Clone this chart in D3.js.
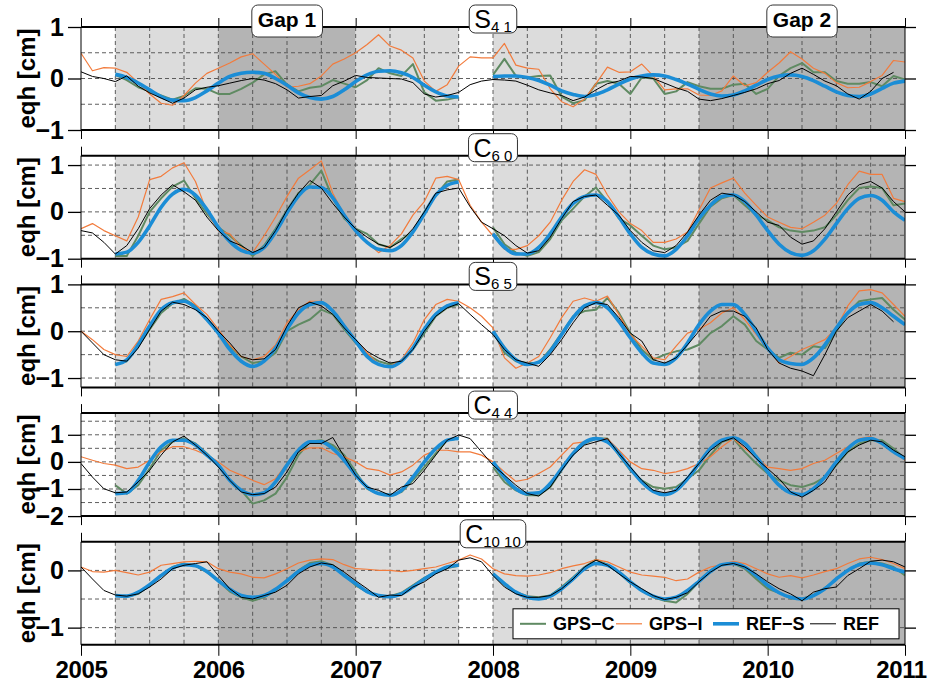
<!DOCTYPE html>
<html>
<head>
<meta charset="utf-8">
<script src="https://cdn.jsdelivr.net/npm/d3@7"></script>
<style>
  body { margin: 0; background: #fff; }
  text { font-family: "Liberation Sans", Arial, Helvetica, sans-serif; }
</style>
</head>
<body>
<svg id="chart" width="931" height="690"></svg>
<script>
// monthly samples, 2005.0 .. 2011.0
var months = d3.range(73).map(function(i) { return 2005 + i / 12; });
var yearTicks = [2005, 2006, 2007, 2008, 2009, 2010, 2011];

// background periods: [start, end, kind]
var periods = [[2005.25, 2006, "light"], [2006, 2007, "dark"], [2007, 2007.75, "light"],
               [2008, 2009.5, "light"], [2009.5, 2011, "dark"]];
var gapLabels = ["Gap 1", "Gap 2"];
var gapCenters = [2006.5, 2010.25];

// ---- S41 ----
var s41_gpsc = [null,null,null,0.07,-0.03,-0.17,-0.25,-0.33,-0.41,-0.34,-0.19,-0.2,
  -0.3,-0.3,-0.2,-0.08,0.08,0.14,-0.12,-0.25,-0.18,-0.15,-0.03,-0.1,
  -0.17,-0.03,0.2,0.1,0.05,0.28,-0.27,-0.43,-0.41,-0.36,null,null,
  0.07,0.38,0.05,0.02,0.05,0.06,-0.35,-0.48,-0.42,-0.1,-0.05,-0.1,
  -0.3,0.02,0.0,-0.3,-0.25,-0.07,-0.15,-0.2,-0.2,-0.12,-0.1,-0.3,
  -0.2,0.05,0.2,0.3,0.12,0.12,-0.05,-0.1,-0.1,-0.07,-0.15,0.05,-0.02];
var s41_gpsi = [0.49,0.15,0.21,0.2,0.12,-0.08,-0.3,-0.48,-0.52,-0.33,-0.09,0.1,
  0.2,0.3,0.42,0.48,0.28,0.08,-0.17,-0.15,-0.1,0.05,0.28,0.38,
  0.5,0.66,0.85,0.63,0.55,0.4,-0.05,-0.25,-0.12,0.24,0.42,0.4,
  0.4,0.68,0.26,0.2,0.18,-0.2,-0.45,-0.55,-0.4,-0.1,0.22,0.12,
  0.13,0.28,0.05,-0.22,-0.2,-0.2,-0.32,-0.33,-0.24,0.05,-0.14,-0.08,
  0.12,0.3,0.52,0.38,0.2,0.1,-0.08,-0.18,-0.17,-0.06,0.06,0.35,0.32];
var s41_refs = [null,null,null,0.08,0.02,-0.09,-0.22,-0.35,-0.42,-0.43,-0.37,-0.24,
  -0.09,0.04,0.1,0.12,0.1,0.0,-0.13,-0.28,-0.37,-0.4,-0.35,-0.22,
  -0.06,0.07,0.14,0.15,0.11,0.02,-0.13,-0.26,-0.34,-0.36,null,null,
  0.04,0.05,0.05,0.02,-0.04,-0.13,-0.24,-0.31,-0.35,-0.31,-0.22,-0.11,
  -0.01,0.05,0.07,0.05,-0.02,-0.11,-0.21,-0.3,-0.34,-0.32,-0.24,-0.13,
  -0.02,0.05,0.07,0.04,-0.04,-0.15,-0.26,-0.33,-0.35,-0.3,-0.19,-0.09,-0.05];
var s41_ref = [0.13,0.04,0.0,-0.06,0.05,-0.15,-0.28,-0.38,-0.48,-0.38,-0.22,-0.17,
  -0.14,-0.09,-0.04,0.0,-0.03,-0.1,-0.22,-0.38,-0.35,-0.33,-0.14,-0.05,
  0.06,0.02,0.01,0.0,-0.01,-0.08,-0.3,-0.36,-0.33,-0.27,-0.12,-0.05,
  -0.02,-0.03,-0.05,-0.13,-0.22,-0.28,-0.33,-0.43,-0.36,-0.22,-0.1,-0.05,
  0.04,0.03,0.0,-0.09,-0.18,-0.25,-0.4,-0.43,-0.39,-0.33,-0.27,-0.2,
  -0.1,-0.04,0.1,0.2,0.08,-0.05,-0.14,-0.3,-0.4,-0.25,0.0,0.12,null];

// ---- C60 ----
var c60_gpsc = [null,null,null,-0.94,-0.94,-0.51,0.0,0.29,0.54,0.67,0.29,-0.04,
  -0.33,-0.51,-0.72,-0.94,-0.72,-0.36,0.04,0.4,0.58,0.88,0.29,-0.14,
  -0.36,-0.47,-0.69,-0.76,-0.58,-0.43,0.0,0.36,0.65,0.69,null,null,
  -0.33,-0.69,-0.87,-0.94,-0.86,-0.58,-0.18,0.07,0.33,0.52,0.22,-0.14,
  -0.29,-0.51,-0.72,-0.8,-0.76,-0.62,-0.25,0.11,0.29,0.36,0.14,-0.07,
  -0.18,-0.33,-0.4,-0.43,-0.4,-0.33,-0.07,0.25,0.51,0.54,0.51,0.14,0.18];
var c60_gpsi = [-0.36,-0.25,-0.4,-0.51,-0.62,-0.11,0.69,0.76,0.94,1.05,0.65,0.0,
  -0.4,-0.47,-0.76,-0.87,-0.51,-0.11,0.33,0.72,0.9,1.09,0.4,-0.07,
  -0.36,-0.65,-0.87,-0.72,-0.47,-0.07,0.22,0.72,0.76,0.69,0.14,-0.22,
  -0.51,-0.8,-0.8,-0.72,-0.51,-0.22,0.25,0.65,0.9,0.8,0.36,0.0,
  -0.25,-0.4,-0.65,-0.65,-0.58,-0.43,0.04,0.51,0.62,0.72,0.4,0.14,
  -0.11,-0.22,-0.33,-0.36,-0.22,-0.07,0.18,0.58,0.87,0.8,0.8,0.29,0.22];
var c60_refs = [null,null,null,-0.9,-0.86,-0.65,-0.3,0.1,0.38,0.48,0.36,0.05,
  -0.33,-0.63,-0.82,-0.88,-0.76,-0.43,-0.02,0.34,0.53,0.52,0.3,-0.07,
  -0.4,-0.65,-0.8,-0.83,-0.72,-0.43,-0.04,0.36,0.57,0.64,null,null,
  -0.47,-0.76,-0.9,-0.9,-0.76,-0.47,-0.11,0.18,0.33,0.36,0.22,-0.11,
  -0.47,-0.76,-0.9,-0.94,-0.8,-0.51,-0.14,0.14,0.33,0.36,0.22,-0.07,
  -0.4,-0.69,-0.87,-0.93,-0.83,-0.58,-0.25,0.07,0.29,0.35,0.25,0.0,-0.18];
var c60_ref = [-0.4,-0.45,-0.65,-0.9,-0.72,-0.36,0.07,0.36,0.58,0.43,0.25,-0.11,
  -0.4,-0.62,-0.72,-0.87,-0.76,-0.4,0.04,0.4,0.67,0.51,0.18,-0.11,
  -0.36,-0.54,-0.69,-0.76,-0.62,-0.36,0.0,0.4,0.47,0.51,0.11,-0.22,
  -0.36,-0.51,-0.72,-0.88,-0.83,-0.54,-0.14,0.22,0.33,0.36,0.14,-0.07,
  -0.4,-0.65,-0.83,-0.87,-0.72,-0.43,-0.07,0.25,0.4,0.36,0.22,0.0,
  -0.22,-0.29,-0.54,-0.69,-0.62,-0.36,0.0,0.36,0.58,0.65,0.51,0.22,0.0];

// ---- S65 ----
var s65_gpsc = [null,null,null,-0.71,-0.64,-0.32,0.04,0.39,0.59,0.69,0.54,0.25,
  -0.04,-0.32,-0.54,-0.68,-0.64,-0.46,0.0,0.14,0.25,0.46,0.36,0.04,
  -0.25,-0.5,-0.64,-0.71,-0.64,-0.39,-0.04,0.32,0.5,0.57,null,null,
  0.0,-0.46,-0.64,-0.68,-0.68,-0.39,-0.04,0.32,0.43,0.46,0.71,0.39,
  -0.04,-0.39,-0.61,-0.5,-0.43,-0.39,-0.29,-0.04,0.11,0.32,0.14,-0.21,
  -0.39,-0.57,-0.46,-0.5,-0.32,-0.36,0.0,0.39,0.64,0.68,0.71,0.46,0.25];
var s65_gpsi = [0.0,-0.18,-0.39,-0.5,-0.54,-0.21,0.25,0.68,0.74,0.82,0.57,0.36,
  0.04,-0.29,-0.54,-0.61,-0.54,-0.29,0.18,0.46,0.64,0.64,0.46,0.11,
  -0.18,-0.46,-0.71,-0.75,-0.61,-0.25,0.25,0.57,0.68,0.64,0.5,0.32,
  0.07,-0.57,-0.79,-0.68,-0.54,-0.14,0.29,0.64,0.71,0.64,0.75,0.36,
  -0.07,-0.32,-0.57,-0.61,-0.32,-0.04,0.04,0.18,0.39,0.5,0.25,-0.07,
  -0.39,-0.68,-0.54,-0.39,-0.29,-0.18,0.07,0.54,0.86,0.89,0.82,0.57,0.32];
var s65_refs = [null,null,null,-0.71,-0.61,-0.29,0.11,0.46,0.61,0.64,0.5,0.25,
  -0.04,-0.39,-0.64,-0.75,-0.64,-0.36,0.04,0.39,0.57,0.61,0.43,0.11,
  -0.21,-0.54,-0.71,-0.76,-0.64,-0.36,0.04,0.36,0.54,0.61,null,null,
  0.0,-0.36,-0.61,-0.71,-0.66,-0.43,-0.07,0.29,0.54,0.61,0.5,0.21,
  -0.14,-0.46,-0.68,-0.71,-0.57,-0.25,0.14,0.43,0.57,0.57,0.36,0.0,
  -0.36,-0.61,-0.69,-0.71,-0.57,-0.29,0.07,0.39,0.57,0.61,0.5,0.32,0.14];
var s65_ref = [0.0,-0.25,-0.5,-0.61,-0.64,-0.36,0.04,0.43,0.62,0.57,0.46,0.29,
  0.0,-0.25,-0.54,-0.61,-0.59,-0.39,0.11,0.5,0.62,0.54,0.36,0.07,
  -0.18,-0.43,-0.57,-0.68,-0.64,-0.39,0.0,0.32,0.5,0.59,0.36,0.14,
  -0.07,-0.39,-0.61,-0.68,-0.75,-0.5,-0.18,0.18,0.5,0.61,0.57,0.29,
  -0.04,-0.21,-0.61,-0.68,-0.57,-0.29,0.0,0.32,0.43,0.43,0.32,0.07,
  -0.39,-0.68,-0.79,-0.85,-0.95,-0.5,0.0,0.29,0.43,0.57,0.43,0.2,null];

// ---- C44 ----
var c44_gpsc = [null,null,null,-0.86,-1.17,-0.86,-0.25,0.43,0.74,0.86,0.68,0.31,
  -0.12,-0.68,-1.05,-1.54,-1.42,-1.17,-0.56,0.25,0.74,0.8,0.62,0.25,
  -0.37,-0.99,-1.17,-1.21,-1.11,-0.68,-0.19,0.31,0.8,0.86,null,null,
  -0.19,-0.74,-1.05,-1.23,-1.23,-0.93,-0.31,0.31,0.68,0.86,0.86,0.25,
  -0.31,-0.68,-0.93,-0.99,-0.93,-0.62,-0.31,0.25,0.74,0.86,0.37,-0.06,
  -0.43,-0.68,-0.86,-0.93,-0.8,-0.56,-0.12,0.37,0.68,0.8,0.8,0.49,0.12];
var c44_gpsi = [0.19,0.06,-0.06,-0.12,-0.25,-0.19,0.06,0.37,0.56,0.56,0.43,0.25,
  0.0,-0.31,-0.49,-0.68,-0.84,-0.62,-0.06,0.37,0.52,0.52,0.31,0.19,
  0.0,-0.25,-0.31,-0.49,-0.37,-0.12,0.25,0.43,0.43,0.37,0.37,0.25,
  0.0,-0.37,-0.72,-0.64,-0.43,-0.19,0.25,0.68,0.74,0.86,0.86,0.43,
  0.0,-0.25,-0.31,-0.43,-0.37,-0.25,-0.06,0.19,0.56,0.86,0.49,0.19,
  -0.19,-0.25,-0.31,-0.25,-0.06,0.06,0.31,0.56,0.86,0.93,0.74,0.37,0.06];
var c44_refs = [null,null,null,-1.17,-1.14,-0.68,0.0,0.56,0.8,0.8,0.62,0.25,
  -0.12,-0.68,-1.05,-1.21,-1.14,-0.74,-0.12,0.43,0.74,0.74,0.49,0.06,
  -0.49,-0.93,-1.17,-1.23,-1.05,-0.56,0.0,0.49,0.8,0.86,null,null,
  0.0,-0.56,-0.99,-1.17,-1.14,-0.8,-0.25,0.31,0.72,0.86,0.74,0.31,
  -0.25,-0.74,-1.09,-1.21,-1.05,-0.62,-0.06,0.49,0.8,0.89,0.68,0.19,
  -0.37,-0.86,-1.14,-1.21,-0.99,-0.56,0.0,0.49,0.8,0.86,0.68,0.37,0.12];
var c44_ref = [-0.06,-0.56,-0.99,-1.14,-1.11,-0.74,-0.31,0.25,0.74,0.95,0.62,0.25,
  -0.19,-0.68,-1.11,-1.21,-1.17,-0.93,-0.37,0.37,0.68,0.68,0.9,0.19,
  -0.49,-0.93,-1.05,-1.23,-0.93,-0.8,-0.31,0.25,0.8,0.99,0.86,0.37,
  -0.12,-0.49,-0.86,-1.17,-1.26,-0.93,-0.31,0.25,0.62,0.74,0.86,0.31,
  -0.19,-0.68,-1.05,-1.14,-1.05,-0.56,-0.06,0.43,0.74,0.89,0.56,0.12,
  -0.25,-0.62,-1.11,-1.3,-1.05,-0.74,-0.12,0.37,0.62,0.8,0.74,0.43,0.19];

// ---- C1010 ----
var c1010_gpsc = [null,null,null,-0.44,-0.46,-0.41,-0.26,-0.09,0.06,0.12,0.08,-0.03,
  -0.18,-0.37,-0.47,-0.53,-0.47,-0.35,-0.18,0.0,0.13,0.16,0.09,-0.08,
  -0.26,-0.38,-0.44,-0.45,-0.39,-0.26,-0.13,-0.03,0.04,0.08,null,null,
  -0.06,-0.25,-0.38,-0.45,-0.47,-0.44,-0.29,-0.12,0.06,0.19,0.1,-0.04,
  -0.22,-0.35,-0.47,-0.53,-0.56,-0.41,-0.2,0.0,0.1,0.12,0.03,-0.15,
  -0.32,-0.39,-0.49,-0.5,-0.43,-0.31,-0.15,0.0,0.12,0.15,0.12,0.06,-0.09];
var c1010_gpsi = [0.06,-0.02,-0.03,0.0,-0.04,-0.08,-0.03,0.09,0.12,0.15,0.16,0.15,
  0.03,-0.03,-0.06,-0.12,-0.13,-0.06,0.03,0.13,0.18,0.2,0.19,0.1,
  0.03,0.02,0.0,0.0,-0.02,0.0,0.03,0.06,0.12,0.18,0.27,0.2,
  0.03,-0.06,-0.09,-0.1,-0.08,-0.04,0.03,0.08,0.12,0.19,0.15,0.06,
  -0.03,-0.08,-0.1,-0.12,-0.18,-0.15,-0.03,0.06,0.1,0.16,0.12,0.03,
  -0.06,-0.12,-0.09,-0.13,-0.08,-0.02,0.03,0.12,0.2,0.23,0.19,0.12,0.03];
var c1010_refs = [null,null,null,-0.44,-0.45,-0.38,-0.25,-0.09,0.04,0.1,0.08,-0.02,
  -0.18,-0.33,-0.44,-0.47,-0.44,-0.33,-0.18,-0.02,0.09,0.12,0.06,-0.09,
  -0.23,-0.37,-0.44,-0.46,-0.41,-0.29,-0.15,-0.03,0.06,0.09,null,null,
  -0.06,-0.23,-0.38,-0.47,-0.5,-0.45,-0.32,-0.15,0.03,0.12,0.09,-0.03,
  -0.2,-0.35,-0.45,-0.5,-0.47,-0.35,-0.19,-0.02,0.1,0.12,0.06,-0.09,
  -0.26,-0.39,-0.47,-0.5,-0.44,-0.32,-0.15,0.0,0.1,0.13,0.1,0.03,-0.03];
var c1010_ref = [0.06,-0.15,-0.35,-0.43,-0.45,-0.41,-0.29,-0.15,0.03,0.09,0.12,0.15,
  -0.09,-0.32,-0.47,-0.5,-0.44,-0.38,-0.26,-0.06,0.06,0.13,0.1,-0.03,
  -0.18,-0.32,-0.47,-0.43,-0.44,-0.29,-0.2,-0.06,0.03,0.18,0.22,0.15,
  -0.09,-0.29,-0.41,-0.47,-0.47,-0.44,-0.32,-0.15,0.06,0.18,0.09,-0.06,
  -0.2,-0.32,-0.44,-0.51,-0.47,-0.39,-0.2,-0.03,0.09,0.12,0.06,-0.06,
  -0.2,-0.32,-0.41,-0.53,-0.38,-0.32,-0.29,-0.09,0.03,0.16,0.18,0.15,0.06];

var titles = ["S", "C", "S", "C", "C"];
var subs = ["4 1", "6 0", "6 5", "4 4", "10 10"];
var domains = [[-1, 1], [-1, 1.2], [-1.2, 1], [-2, 1.8], [-1.3, 0.5]];
var yTicks = [[-1, 0, 1], [-1, 0, 1], [-1, 0, 1], [-2, -1, 0, 1], [-1, 0]];
var seriesData = [
  [s41_gpsc, s41_gpsi, s41_refs, s41_ref],
  [c60_gpsc, c60_gpsi, c60_refs, c60_ref],
  [s65_gpsc, s65_gpsi, s65_refs, s65_ref],
  [c44_gpsc, c44_gpsi, c44_refs, c44_ref],
  [c1010_gpsc, c1010_gpsi, c1010_refs, c1010_ref]
];
var seriesNames = ["GPS\u2212C", "GPS\u2212I", "REF\u2212S", "REF"];

// styles
var seriesColor = ["#5f8a62", "#f27b3c", "#1b8dd6", "#000000"];
var seriesWidth = [2, 1.2, 3.6, 1];
var shadeColor = { light: "#dcdcdc", dark: "#b4b4b4" };

var svg = d3.select("#chart");
var x = d3.scaleLinear().domain([2005, 2011]).range([81, 905]);
var panelH = 103, panelStep = 128.7, firstTop = 27;
var quarters = d3.range(2005.25, 2010.9, 0.25);

var titleLayer = svg.append("g");

domains.forEach(function(dom, k) {
  var top = firstTop + k * panelStep;
  var g = svg.append("g").attr("transform", "translate(0," + top + ")");
  var y = d3.scaleLinear().domain(dom).range([panelH, 0]);

  g.append("clipPath").attr("id", "clip" + k)
    .append("rect").attr("x", x(2005)).attr("y", 0)
    .attr("width", x(2011) - x(2005)).attr("height", panelH);

  // background periods
  g.selectAll("rect.shade").data(periods).join("rect")
    .attr("class", "shade")
    .attr("x", function(d) { return x(d[0]); })
    .attr("width", function(d) { return x(d[1]) - x(d[0]); })
    .attr("y", 0).attr("height", panelH)
    .attr("fill", function(d) { return shadeColor[d[2]]; });

  // dashed grid
  var hGrid = d3.range(Math.ceil(dom[0] * 2) / 2, dom[1], 0.5)
    .filter(function(v) { return v > dom[0] + 0.01 && v < dom[1] - 0.01; });
  g.selectAll("line.hg").data(hGrid).join("line")
    .attr("x1", x(2005)).attr("x2", x(2011))
    .attr("y1", function(d) { return y(d); }).attr("y2", function(d) { return y(d); })
    .attr("stroke", "#4d4d4d").attr("stroke-width", 0.9).attr("stroke-dasharray", "4,3");
  g.selectAll("line.vg").data(quarters).join("line")
    .attr("x1", function(d) { return x(d); }).attr("x2", function(d) { return x(d); })
    .attr("y1", 0).attr("y2", panelH)
    .attr("stroke", "#4d4d4d").attr("stroke-width", 0.9).attr("stroke-dasharray", "4,3");

  // series
  var lineGen = d3.line()
    .defined(function(d) { return d[1] != null; })
    .x(function(d) { return x(d[0]); })
    .y(function(d) { return y(d[1]); });
  seriesData[k].forEach(function(arr, s) {
    var pts = months.map(function(t, i) { return [t, arr[i]]; });
    g.append("path")
      .datum(pts)
      .attr("clip-path", "url(#clip" + k + ")")
      .attr("fill", "none")
      .attr("stroke", seriesColor[s])
      .attr("stroke-width", seriesWidth[s])
      .attr("stroke-linejoin", "round")
      .attr("d", lineGen.curve(s === 2 ? d3.curveMonotoneX : d3.curveLinear));
  });

  // frame
  g.append("line").attr("x1", x(2005)).attr("x2", x(2011)).attr("y1", 0).attr("y2", 0)
    .attr("stroke", "#000").attr("stroke-width", 2);
  g.append("line").attr("x1", x(2005)).attr("x2", x(2011)).attr("y1", panelH).attr("y2", panelH)
    .attr("stroke", "#000").attr("stroke-width", 2);
  g.append("line").attr("x1", x(2005)).attr("x2", x(2005)).attr("y1", 0).attr("y2", panelH)
    .attr("stroke", "#000").attr("stroke-width", 1);
  g.append("line").attr("x1", x(2011)).attr("x2", x(2011)).attr("y1", 0).attr("y2", panelH)
    .attr("stroke", "#000").attr("stroke-width", 1);

  // y axes
  var yl = g.append("g").attr("transform", "translate(" + x(2005) + ",0)")
    .call(d3.axisLeft(y).tickValues(yTicks[k]).tickSize(13).tickPadding(4).tickFormat(d3.format("d")));
  yl.select(".domain").remove();
  yl.selectAll("text").attr("font-size", 25).attr("font-weight", "bold").attr("fill", "#000")
    .style("font-family", "'Liberation Sans', Arial, sans-serif");
  yl.selectAll("line").attr("stroke-width", 1.3);
  var yr = g.append("g").attr("transform", "translate(" + x(2011) + ",0)")
    .call(d3.axisRight(y).tickValues(yTicks[k]).tickSize(11).tickFormat(""));
  yr.select(".domain").remove();
  yr.selectAll("line").attr("stroke-width", 1.3);

  // x ticks on top and bottom
  var xt = g.append("g").call(d3.axisTop(x).tickValues(yearTicks).tickSize(9).tickFormat(""));
  xt.select(".domain").remove();
  var last = k === domains.length - 1;
  var xb = g.append("g").attr("transform", "translate(0," + panelH + ")")
    .call(d3.axisBottom(x).tickValues(yearTicks).tickSize(last ? 11 : 9).tickPadding(5)
      .tickFormat(last ? d3.format("d") : ""));
  xb.select(".domain").remove();
  xb.selectAll("text").attr("font-size", 24).attr("font-weight", "bold").attr("fill", "#000")
    .attr("letter-spacing", -0.4)
    .attr("dx", function(d) { return d === 2011 ? -4 : 0; })
    .style("font-family", "'Liberation Sans', Arial, sans-serif");

  // y label
  svg.append("text")
    .attr("transform", "translate(35," + (top + panelH / 2) + ") rotate(-90)")
    .attr("text-anchor", "middle")
    .attr("font-size", 24).attr("font-weight", "bold")
    .text("eqh [cm]");

  // title box
  var tg = titleLayer.append("g");
  var tt = tg.append("text").attr("x", x(2008)).attr("y", top + 1).attr("text-anchor", "middle");
  tt.append("tspan").attr("font-size", 25).text(titles[k]);
  tt.append("tspan").attr("font-size", 15).attr("dy", 4).text(subs[k]);
  var bb = tt.node().getBBox();
  tg.insert("rect", "text")
    .attr("x", bb.x - 5).attr("width", bb.width + 10)
    .attr("y", top - 22).attr("height", 28)
    .attr("rx", 6).attr("fill", "#fff").attr("stroke", "#333").attr("stroke-width", 1);

  if (k === 0) {
    gapLabels.forEach(function(lbl, j) {
      var gg = titleLayer.append("g");
      var gt = gg.append("text").attr("x", x(gapCenters[j])).attr("y", top).attr("text-anchor", "middle")
        .attr("font-size", 21).attr("font-weight", "bold").text(lbl);
      var gb = gt.node().getBBox();
      gg.insert("rect", "text")
        .attr("x", gb.x - 6).attr("width", gb.width + 12)
        .attr("y", top - 22).attr("height", 32)
        .attr("rx", 6).attr("fill", "#fff").attr("stroke", "#333").attr("stroke-width", 1);
    });
  }

  if (last) {
    var lg = svg.append("g");
    lg.append("rect").attr("x", 513).attr("y", top + 67).attr("width", 386).attr("height", 30)
      .attr("fill", "#fff").attr("stroke", "#000").attr("stroke-width", 1);
    var legX = [520, 616, 713, 810];
    seriesNames.forEach(function(nm, s) {
      var cy = top + 82;
      lg.append("line").attr("x1", legX[s]).attr("x2", legX[s] + 26)
        .attr("y1", cy).attr("y2", cy)
        .attr("stroke", seriesColor[s]).attr("stroke-width", seriesWidth[s]);
      lg.append("text").attr("x", legX[s] + 33).attr("y", cy).attr("dy", "0.35em")
        .attr("font-size", 18).attr("font-weight", "bold").text(nm);
    });
  }
});

titleLayer.raise();
</script>
</body>
</html>
